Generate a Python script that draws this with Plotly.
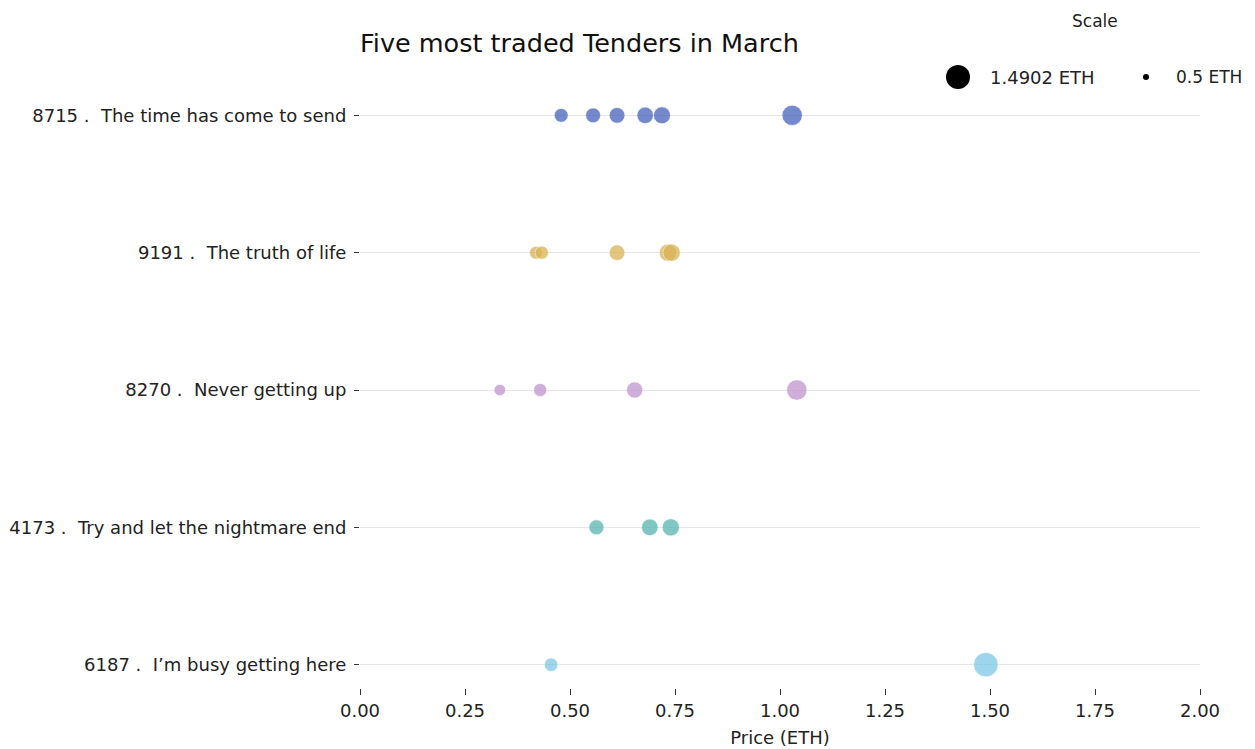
import math
import plotly.graph_objects as go

title_text = "Five most traded Tenders in March"
tender_ids = ["8715", "9191", "8270", "4173", "6187"]
tender_names = [
    "The time has come to send",
    "The truth of life",
    "Never getting up",
    "Try and let the nightmare end",
    "I\u2019m busy getting here",
]
prices = [
    [0.479, 0.555, 0.612, 0.679, 0.719, 1.029],
    [0.419, 0.433, 0.612, 0.733, 0.742],
    [0.333, 0.429, 0.654, 1.040],
    [0.563, 0.690, 0.740],
    [0.455, 1.4902],
]
colors = ["#4662bc", "#d9b456", "#c095cd", "#56b4ae", "#7cc7e6"]
scale_values = [1.4902, 0.5]
x_ticks = [0, 0.25, 0.5, 0.75, 1.0, 1.25, 1.5, 1.75, 2.0]

FONT = "DejaVu Sans"
labels = [f"{i} .\u00a0 {n}" for i, n in zip(tender_ids, tender_names)]

fig = go.Figure()
for lab, vals, col in zip(labels, prices, colors):
    fig.add_trace(go.Scatter(
        x=vals, y=[lab] * len(vals), mode="markers",
        marker=dict(color=col, opacity=0.75,
                    size=[20 * math.sqrt(v) for v in vals],
                    line=dict(color="rgba(255,255,255,0.6)", width=1)),
        showlegend=False, hoverinfo="x+y",
    ))

# page offset of 8px (body margin); work in screen pixels
OFF = 8
W, H = 1255 - OFF, 749 - OFF
L, T = 360 - OFF, 92 - OFF
R = W - (1200 - OFF)
B = H - (688 - OFF)
pw, ph = W - L - R, H - T - B

def px_to_paper(xs, ys):
    xp, yp = xs - OFF, ys - OFF
    return (xp - L) / pw, (H - B - yp) / ph

shapes = []
annotations = []
leg_pos = [(958, 77, 24, 30, 18), (1146, 77, 6, 28, 17)]
for (xp, yp, d, gap, fs), v in zip(leg_pos, scale_values):
    xa, ya = px_to_paper(xp, yp)
    shapes.append(dict(type="circle", xref="paper", yref="paper",
                       xsizemode="pixel", ysizemode="pixel",
                       xanchor=xa, yanchor=ya,
                       x0=-d / 2, x1=d / 2, y0=-d / 2, y1=d / 2,
                       fillcolor="black", line=dict(width=0)))
    annotations.append(dict(text=f"{v:g} ETH", xref="paper", yref="paper",
                            x=xa + gap / pw, y=ya, xanchor="left", yanchor="middle",
                            showarrow=False, font=dict(family=FONT, size=fs, color="#222")))
xs, ys = px_to_paper(1095, 21)
annotations.append(dict(text="Scale", xref="paper", yref="paper", x=xs, y=ys,
                        xanchor="center", yanchor="middle", showarrow=False,
                        font=dict(family=FONT, size=17, color="#222")))

fig.update_layout(
    width=W, height=H,
    margin=dict(l=L, r=R, t=T, b=B, pad=0, autoexpand=False),
    paper_bgcolor="white", plot_bgcolor="white",
    font=dict(family=FONT, size=18, color="#222"),
    title=dict(text=title_text, x=L / W, xanchor="left", y=1 - (43 - OFF) / H, yanchor="middle",
               font=dict(family=FONT, size=25.5, color="#111")),
    xaxis=dict(range=[0, 2], tickvals=x_ticks, tickformat=".2f",
               showgrid=False, zeroline=False, showline=False, automargin=True,
               ticks="outside", ticklen=6, tickcolor="#333",
               title=dict(text="Price (ETH)", standoff=11, font=dict(size=18)),
               tickfont=dict(size=18)),
    yaxis=dict(categoryorder="array", categoryarray=labels[::-1],
               range=[-0.17, 4.17], showgrid=True, gridcolor="#e6e6e6", gridwidth=1,
               zeroline=False, showline=False, automargin=False,
               ticks="outside", ticklen=5, tickcolor="#333", ticklabelstandoff=4,
               tickfont=dict(size=18)),
    shapes=shapes, annotations=annotations,
)

fig.write_html("out.html")
